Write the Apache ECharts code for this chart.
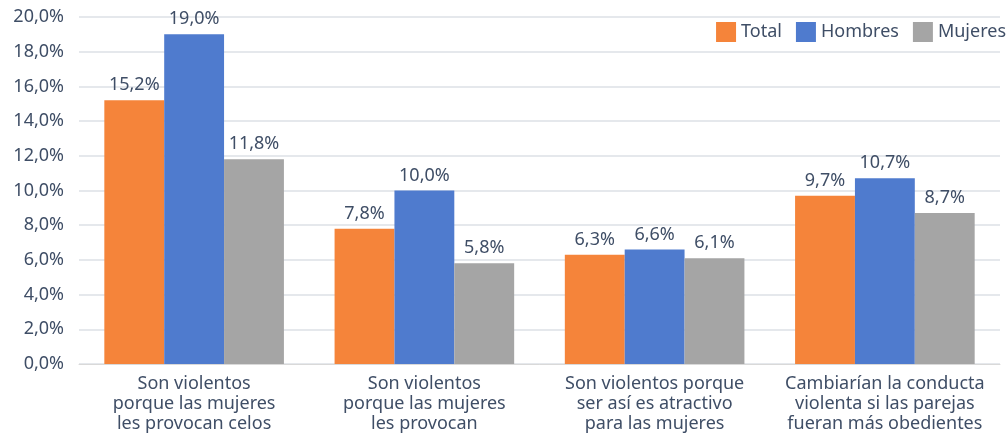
<!DOCTYPE html>
<html><head><meta charset="utf-8">
<script src="https://cdn.jsdelivr.net/npm/echarts@6/dist/echarts.min.js"></script>
<style>html,body{margin:0;padding:0;background:#fff}#c{width:1006px;height:436px}</style>
</head><body><div id="c"></div>
<script>
const categories = [
  "Son violentos\nporque las mujeres\nles provocan celos",
  "Son violentos\nporque las mujeres\nles provocan",
  "Son violentos porque\nser así es atractivo\npara las mujeres",
  "Cambiarían la conducta\nviolenta si las parejas\nfueran más obedientes"
];
const seriesNames = ["Total", "Hombres", "Mujeres"];
const total = [15.2, 7.8, 6.3, 9.7];
const hombres = [19.0, 10.0, 6.6, 10.7];
const mujeres = [11.8, 5.8, 6.1, 8.7];
const colors = ["#F5843A", "#4F7BCE", "#A5A5A5"];
const textColor = "#3F4E66";
const font = "Noto Sans";
const fmt = v => v.toFixed(1).replace('.', ',') + '%';

const chart = echarts.init(document.getElementById('c'), null, {renderer: 'canvas'});
const mk = (name, data, i) => ({
  name, type: 'bar', data, barGap: '0%', barCategoryGap: '22%',
  itemStyle: {color: colors[i]},
  label: {show: true, position: 'top', distance: 6, color: textColor, fontFamily: font, fontSize: 18,
    formatter: p => fmt(p.value)}
});
chart.setOption({
  animation: false,
  textStyle: {fontFamily: font},
  legend: {
    right: 0, top: 22, itemWidth: 20, itemHeight: 20, itemGap: 14,
    textStyle: {color: textColor, fontSize: 18, fontFamily: font},
    icon: 'rect', padding: 0,
    data: seriesNames
  },
  grid: {left: 79, right: 6, top: 17, bottom: 72, containLabel: false},
  xAxis: {
    type: 'category', data: categories,
    axisLine: {lineStyle: {color: '#D9D9D9'}},
    axisTick: {show: false},
    axisLabel: {color: textColor, fontSize: 18, fontFamily: font, lineHeight: 20, margin: 10, interval: 0}
  },
  yAxis: {
    type: 'value', min: 0, max: 20, interval: 2,
    axisLabel: {color: textColor, fontSize: 18, fontFamily: font, margin: 15, formatter: v => fmt(v)},
    splitLine: {lineStyle: {color: '#DDE1E6', width: 1.5}},
    axisLine: {show: false}, axisTick: {show: false}
  },
  series: [mk(seriesNames[0], total, 0), mk(seriesNames[1], hombres, 1), mk(seriesNames[2], mujeres, 2)]
});
</script></body></html>
